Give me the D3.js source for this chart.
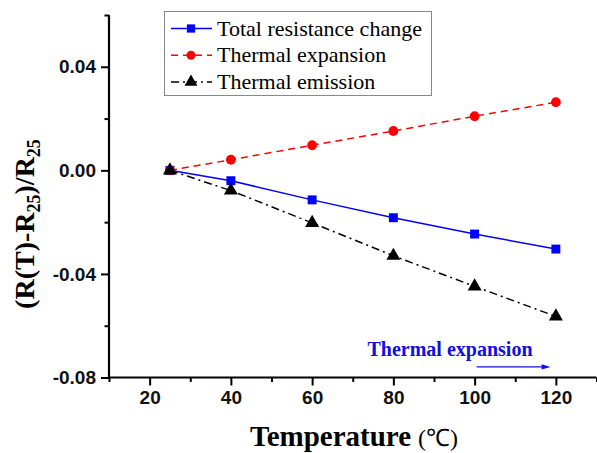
<!DOCTYPE html>
<html>
<head>
<meta charset="utf-8">
<script src="https://cdn.jsdelivr.net/npm/d3@7"></script>
<style>
  body { margin: 0; background: #fff; }
  svg { display: block; }
</style>
</head>
<body>
<div id="chart"></div>
<script>
// values
const temps = [25, 40, 60, 80, 100, 120];
const totalChange = [0, -0.0040, -0.0114, -0.0183, -0.0246, -0.0304];
const thermalExpansion = [0, 0.0041, 0.0097, 0.0152, 0.0209, 0.0263];
const thermalEmission = [0, -0.0078, -0.0203, -0.0330, -0.0448, -0.0564];

const xMajor = [20, 40, 60, 80, 100, 120];
const xMinor = [10, 30, 50, 70, 90, 110, 130];
const yMajor = [0.04, 0.00, -0.04, -0.08];
const yMinor = [0.06, 0.02, -0.02, -0.06];

const seriesNames = ['Total resistance change', 'Thermal expansion', 'Thermal emission'];

const width = 597;
const height = 453;
const margin = { top: 15, right: 0.5, bottom: 75.5, left: 109 };

const svg = d3.select('#chart')
  .append('svg')
  .attr('width', width)
  .attr('height', height);

const x = d3.scaleLinear()
  .domain([10, 130])
  .range([margin.left, width - margin.right]);

const y = d3.scaleLinear()
  .domain([-0.08, 0.06])
  .range([height - margin.bottom, margin.top]);

const fmt = d => d3.format('.2f')(d).replace('−', '-');

// x axis: major + minor ticks
svg.append('g')
  .attr('transform', `translate(0, ${y(-0.08)})`)
  .call(d3.axisBottom(x).tickValues(xMajor).tickSize(8).tickPadding(5).tickFormat(d3.format('d')));
svg.append('g')
  .attr('transform', `translate(0, ${y(-0.08)})`)
  .call(d3.axisBottom(x).tickValues(xMinor).tickSize(4.5).tickFormat(''));

// y axis: major + minor ticks
svg.append('g')
  .attr('transform', `translate(${x(10)}, 0)`)
  .call(d3.axisLeft(y).tickValues(yMajor).tickSize(8).tickPadding(5).tickFormat(fmt));
svg.append('g')
  .attr('transform', `translate(${x(10)}, 0)`)
  .call(d3.axisLeft(y).tickValues(yMinor).tickSize(4.5).tickFormat(''));

svg.selectAll('.domain').remove();
svg.selectAll('.tick line').attr('stroke-width', 2);
svg.selectAll('.tick text')
  .attr('font-family', '"Liberation Sans", Arial, sans-serif')
  .attr('font-weight', 'bold')
  .attr('font-size', 19)
  .attr('fill', '#111');

// plain axis lines, no end caps
svg.append('line')
  .attr('x1', x(10)).attr('x2', x(130))
  .attr('y1', y(-0.08)).attr('y2', y(-0.08))
  .attr('stroke', '#000').attr('stroke-width', 2.2);
svg.append('line')
  .attr('x1', x(10)).attr('x2', x(10))
  .attr('y1', y(-0.08) + 1.1).attr('y2', y(0.06))
  .attr('stroke', '#000').attr('stroke-width', 2.2);

// series
const lineGen = vals => d3.line()
  .x((d, i) => x(temps[i]))
  .y(d => y(d))(vals);

const series = [
  { name: seriesNames[0], values: totalChange, color: '#0000ff', dash: null, symbol: d3.symbolSquare, size: 80 },
  { name: seriesNames[1], values: thermalExpansion, color: '#ff0000', dash: '7,5', symbol: d3.symbolCircle, size: 75 },
  { name: seriesNames[2], values: thermalEmission, color: '#000000', dash: '8,4,2,4', symbol: d3.symbolTriangle, size: 85 }
];

series.forEach(s => {
  svg.append('path')
    .attr('d', lineGen(s.values))
    .attr('fill', 'none')
    .attr('stroke', s.color)
    .attr('stroke-width', 1.5)
    .attr('stroke-dasharray', s.dash);
  svg.append('g')
    .selectAll('path')
    .data(s.values)
    .enter()
    .append('path')
    .attr('d', d3.symbol().type(s.symbol).size(s.size))
    .attr('transform', (d, i) => `translate(${x(temps[i])}, ${y(d)})`)
    .attr('fill', s.color);
});

// legend
const legend = svg.append('g');
legend.append('rect')
  .attr('x', 164.5).attr('y', 11.5)
  .attr('width', 267).attr('height', 84)
  .attr('fill', '#fff')
  .attr('stroke', '#888')
  .attr('stroke-width', 1);

series.forEach((s, i) => {
  const ly = 28.5 + i * 26.7;
  legend.append('line')
    .attr('x1', 171).attr('x2', 212)
    .attr('y1', ly).attr('y2', ly)
    .attr('stroke', s.color)
    .attr('stroke-width', 1.5)
    .attr('stroke-dasharray', s.dash);
  legend.append('path')
    .attr('d', d3.symbol().type(s.symbol).size(s.size * 0.85))
    .attr('transform', `translate(191, ${ly})`)
    .attr('fill', s.color);
  legend.append('text')
    .attr('x', 217)
    .attr('y', ly)
    .attr('dy', '0.33em')
    .attr('font-family', '"Liberation Serif", "Times New Roman", serif')
    .attr('font-size', 22)
    .attr('fill', '#000')
    .text(s.name);
});

// annotation
svg.append('text')
  .attr('x', 450)
  .attr('y', 356)
  .attr('text-anchor', 'middle')
  .attr('font-family', '"Liberation Serif", "Times New Roman", serif')
  .attr('font-weight', 'bold')
  .attr('font-size', 20)
  .attr('fill', '#1010e0')
  .text('Thermal expansion');

const ax1 = x(100.5), ax2 = x(118.7), ay = y(-0.0759);
svg.append('line')
  .attr('x1', ax1).attr('x2', ax2 - 6)
  .attr('y1', ay).attr('y2', ay)
  .attr('stroke', '#1010e0').attr('stroke-width', 1.3);
svg.append('path')
  .attr('d', `M${ax2},${ay} L${ax2 - 9},${ay - 2.6} L${ax2 - 9},${ay + 2.6} Z`)
  .attr('fill', '#1010e0');

// axis titles
const xTitle = svg.append('text')
  .attr('x', 354)
  .attr('y', 446)
  .attr('text-anchor', 'middle')
  .attr('font-family', '"Liberation Serif", "Times New Roman", serif')
  .attr('font-weight', 'bold')
  .attr('font-size', 29)
  .attr('fill', '#000');
xTitle.append('tspan').text('Temperature');
xTitle.append('tspan').attr('font-size', 24).attr('font-weight', 'normal').attr('dx', 7).text('(℃)');

const yTitle = svg.append('text')
  .attr('transform', 'translate(34, 224) rotate(-90)')
  .attr('text-anchor', 'middle')
  .attr('font-family', '"Liberation Serif", "Times New Roman", serif')
  .attr('font-weight', 'bold')
  .attr('font-size', 28)
  .attr('fill', '#000');
yTitle.append('tspan').text('(R(T)-R');
yTitle.append('tspan').attr('font-size', 18).attr('dy', 6).text('25');
yTitle.append('tspan').attr('dy', -6).text(')/R');
yTitle.append('tspan').attr('font-size', 18).attr('dy', 6).text('25');
</script>
</body>
</html>
